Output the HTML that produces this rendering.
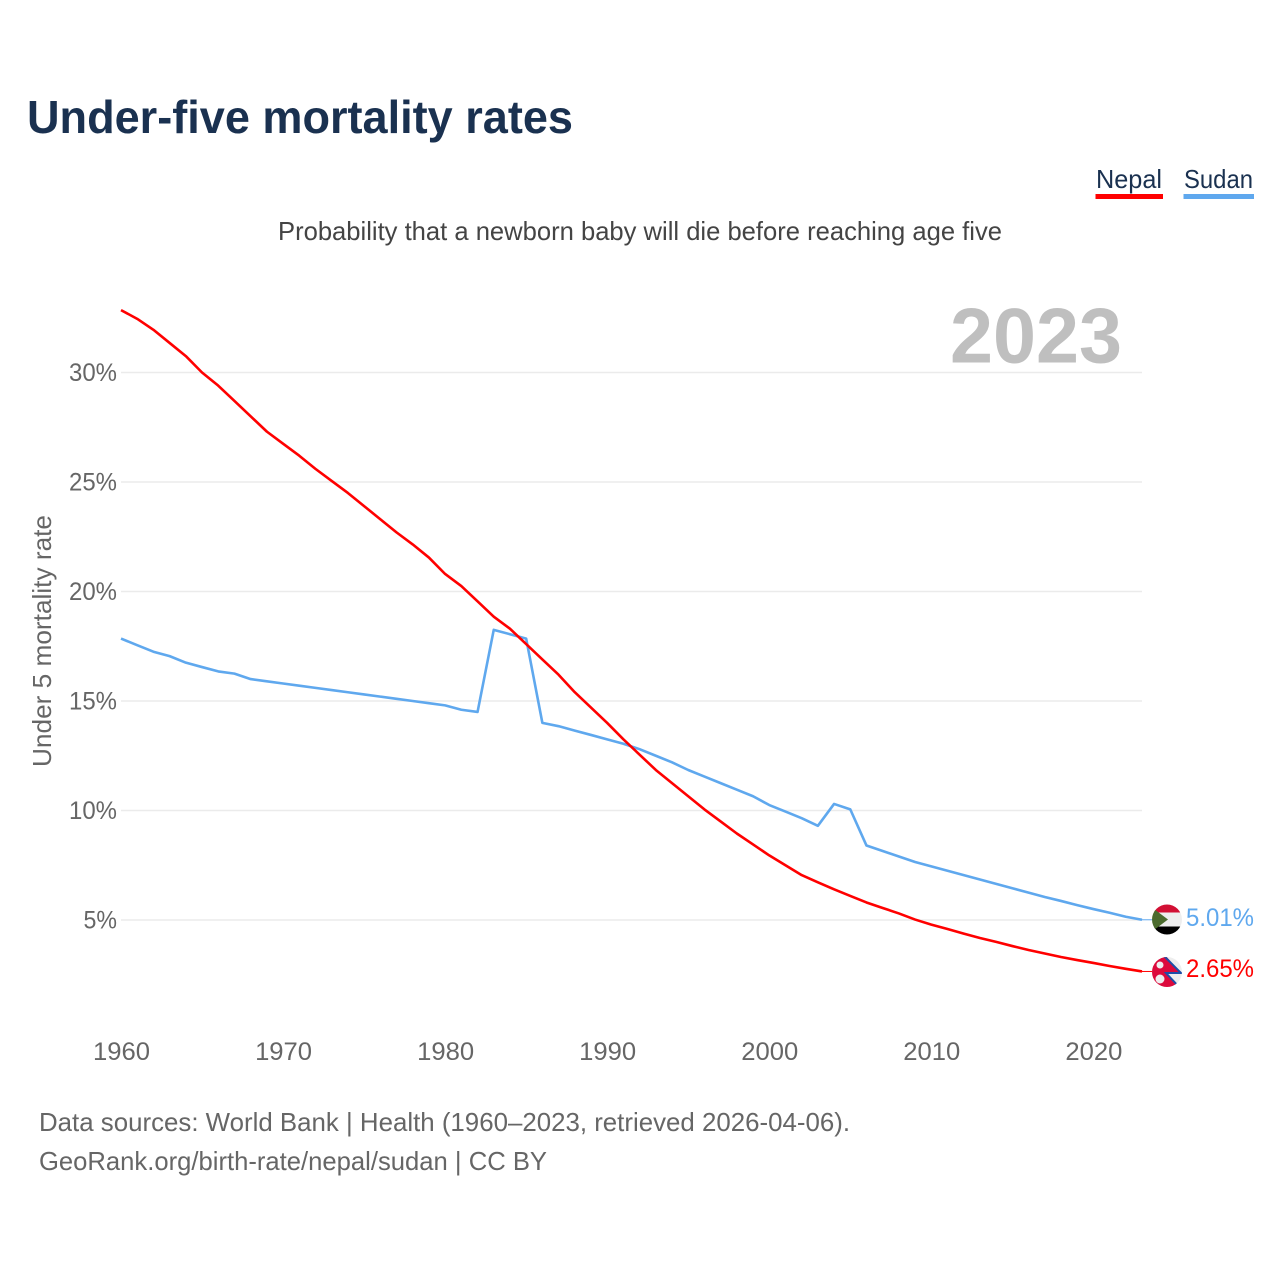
<!DOCTYPE html>
<html lang="en">
<head>
<meta charset="utf-8">
<title>Under-five mortality rates</title>
<style>
html,body{margin:0;padding:0;background:#fff;width:1280px;height:1280px;overflow:hidden}
svg{display:block}
text{font-family:"Liberation Sans",sans-serif}
</style>
</head>
<body>
<svg id="chart" xmlns="http://www.w3.org/2000/svg" width="1280" height="1280" viewBox="0 0 1280 1280">
  <defs>
    <clipPath id="clip-sudan"><circle cx="1167" cy="919.5" r="15"/></clipPath>
    <clipPath id="clip-nepal"><circle cx="1167" cy="972" r="15"/></clipPath>
  </defs>
  <rect width="1280" height="1280" fill="#fff"/>
  <text x="27" y="133" font-size="46" font-weight="700" fill="#1a3150" textLength="546" lengthAdjust="spacingAndGlyphs">Under-five mortality rates</text>
  <g>
    <text x="1096" y="188" font-size="26" fill="#1a3150" textLength="66" lengthAdjust="spacingAndGlyphs">Nepal</text>
    <rect x="1095.5" y="194" width="67.5" height="5" fill="#ff0000"/>
  </g>
  <g>
    <text x="1184" y="188" font-size="26" fill="#1a3150" textLength="69" lengthAdjust="spacingAndGlyphs">Sudan</text>
    <rect x="1183.5" y="194" width="70.5" height="5" fill="#5fa8ee"/>
  </g>
  <text x="278" y="240" font-size="26" fill="#444" textLength="724" lengthAdjust="spacingAndGlyphs">Probability that a newborn baby will die before reaching age five</text>
  <g id="grid"></g>
  <text x="950" y="362.5" font-size="78" font-weight="700" fill="#bfbfbf" textLength="172" lengthAdjust="spacingAndGlyphs">2023</text>
  <g id="yticks"></g>
  <g id="xticks"></g>
  <text transform="translate(51,767) rotate(-90)" x="0" y="0" font-size="26" fill="#666" textLength="252" lengthAdjust="spacingAndGlyphs">Under 5 mortality rate</text>
  <g id="series"></g>
  <g clip-path="url(#clip-sudan)">
    <rect x="1150" y="902" width="34" height="10.5" fill="#d21034"/>
    <rect x="1150" y="912.5" width="34" height="14" fill="#eeeeee"/>
    <rect x="1150" y="926.5" width="34" height="11" fill="#000"/>
    <polygon points="1150,906 1168,919.5 1150,933" fill="#4b6b2e"/>
  </g>
  <g clip-path="url(#clip-nepal)">
    <rect x="1150" y="955" width="34" height="34" fill="#eeeeee"/>
    <polygon points="1150,955 1165,955 1181,973 1166,973 1181,990 1150,990" fill="#dc0a3c"/>
    <polyline points="1164,956 1181,973 1166,973 1181,989" fill="none" stroke="#1d4fa8" stroke-width="2"/>
    <circle cx="1160" cy="965" r="3.5" fill="#eee"/>
    <circle cx="1160" cy="979" r="4.5" fill="#eee"/>
  </g>
  <text x="1186" y="926" font-size="25" fill="#5fa8ee" textLength="68" lengthAdjust="spacingAndGlyphs">5.01%</text>
  <text x="1186" y="977" font-size="25" fill="#ff0000" textLength="68" lengthAdjust="spacingAndGlyphs">2.65%</text>
  <text x="39" y="1131" font-size="26" fill="#666" textLength="811" lengthAdjust="spacingAndGlyphs">Data sources: World Bank | Health (1960–2023, retrieved 2026-04-06).</text>
  <text x="39" y="1170" font-size="26" fill="#666" textLength="508" lengthAdjust="spacingAndGlyphs">GeoRank.org/birth-rate/nepal/sudan | CC BY</text>
</svg>
<script>
const startYear = 1960;
const yTickValues = [5, 10, 15, 20, 25, 30];
const yTickLabels = ["5%", "10%", "15%", "20%", "25%", "30%"];
const xTickYears = [1960, 1970, 1980, 1990, 2000, 2010, 2020];
const nepalValues = [32.85,32.45,31.95,31.35,30.75,30.0,29.4,28.7,28.0,27.3,26.75,26.2,25.6,25.05,24.5,23.9,23.3,22.7,22.15,21.55,20.8,20.25,19.55,18.85,18.3,17.6,16.9,16.2,15.4,14.7,14.0,13.25,12.55,11.85,11.25,10.65,10.05,9.5,8.95,8.45,7.95,7.5,7.05,6.72,6.4,6.1,5.8,5.55,5.3,5.02,4.79,4.59,4.38,4.18,4.0,3.81,3.63,3.47,3.31,3.17,3.04,2.9,2.77,2.65];
const sudanValues = [17.85,17.55,17.25,17.05,16.75,16.55,16.35,16.25,16.0,15.9,15.8,15.7,15.6,15.5,15.4,15.3,15.2,15.1,15.0,14.9,14.8,14.6,14.5,18.25,18.05,17.85,14.0,13.85,13.65,13.45,13.25,13.05,12.8,12.5,12.2,11.85,11.55,11.25,10.95,10.65,10.25,9.95,9.65,9.3,10.3,10.05,8.4,8.15,7.9,7.65,7.45,7.25,7.05,6.85,6.65,6.45,6.25,6.05,5.87,5.68,5.5,5.33,5.15,5.01];

const NS = 'http://www.w3.org/2000/svg';
function xScale(year) { return 121 + (year - startYear) * (1142 - 121) / 63; }
function yScale(v) { return 920 - (v - 5) * (920 - 372.5) / 25; }

const grid = document.getElementById('grid');
const yticks = document.getElementById('yticks');
yTickValues.forEach(function (v, i) {
  const line = document.createElementNS(NS, 'line');
  
  
  line.setAttribute('x1', 121);
  line.setAttribute('x2', 1142);
  line.setAttribute('y1', yScale(v));
  line.setAttribute('y2', yScale(v));
  line.setAttribute('stroke', '#ebebeb');
  line.setAttribute('stroke-width', 1.5);
  grid.appendChild(line);
  const t = document.createElementNS(NS, 'text');
  
  
  const w = (yTickLabels[i].length - 1) * 14.5 + 19;
  t.setAttribute('x', 117 - w);
  t.setAttribute('y', yScale(v) + 8.5);
  t.setAttribute('font-size', 25);
  t.setAttribute('fill', '#666');
  t.setAttribute('textLength', w);
  t.setAttribute('lengthAdjust', 'spacingAndGlyphs');
  t.textContent = yTickLabels[i];
  yticks.appendChild(t);
});

const xticks = document.getElementById('xticks');
xTickYears.forEach(function (yr) {
  const t = document.createElementNS(NS, 'text');
  
  
  t.setAttribute('x', xScale(yr) - 28);
  t.setAttribute('y', 1060);
  t.setAttribute('font-size', 25);
  t.setAttribute('fill', '#666');
  t.setAttribute('textLength', 57);
  t.setAttribute('lengthAdjust', 'spacingAndGlyphs');
  t.textContent = String(yr);
  xticks.appendChild(t);
});

const seriesGroup = document.getElementById('series');
function drawSeries(values, color) {
  const pts = values.map(function (v, i) {
    return xScale(startYear + i).toFixed(2) + ',' + yScale(v).toFixed(2);
  }).join(' ');
  const p = document.createElementNS(NS, 'polyline');
  p.setAttribute('points', pts);
  p.setAttribute('fill', 'none');
  p.setAttribute('stroke', color);
  p.setAttribute('stroke-width', 2.6);
  p.setAttribute('stroke-linejoin', 'round');
  return p;
}
function drawConnector(values, color) {
  const last = values[values.length - 1];
  const c = document.createElementNS(NS, 'line');
  c.setAttribute('x1', xScale(startYear + values.length - 1));
  c.setAttribute('x2', 1152);
  c.setAttribute('y1', yScale(last));
  c.setAttribute('y2', yScale(last));
  c.setAttribute('stroke', color);
  c.setAttribute('stroke-width', 1);
  return c;
}
const sudanLine = drawSeries(sudanValues, '#5fa8ee');


seriesGroup.appendChild(sudanLine);
const nepalLine = drawSeries(nepalValues, '#ff0000');


seriesGroup.appendChild(nepalLine);
const sudanConnector = drawConnector(sudanValues, '#5fa8ee');


seriesGroup.appendChild(sudanConnector);
const nepalConnector = drawConnector(nepalValues, '#ff0000');


seriesGroup.appendChild(nepalConnector);
</script>
</body>
</html>
